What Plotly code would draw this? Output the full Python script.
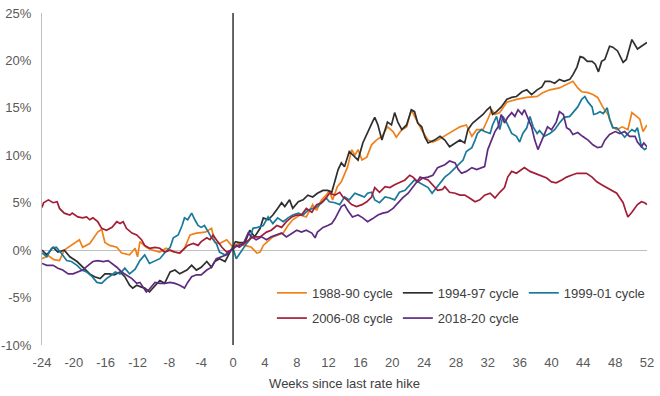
import plotly.graph_objects as go

# ---------------- data (percent change, weeks since last rate hike) ----------------
w_1988 = [-24, -23.2, -22.5, -21.8, -21.2, -19.9, -19.3, -18.9, -18.0, -17.0, -16.5, -16.1, -15.5, -14.6, -14.0,
          -13.0, -12.3, -12.0, -11.7, -10.9, -10.1, -9.2, -8.4, -7.5, -6.7, -6.1, -5.4, -4.6, -3.5, -2.7, -2.3,
          -1.7, -0.8, 0.0, 0.6, 1.5, 2.3, 3.0, 3.4, 3.8, 5.0, 6.3, 6.9, 7.5, 8.4, 9.2, 10.0, 10.5, 11.1, 11.7,
          12.1, 12.5, 13.1, 13.6, 14.4, 14.9, 15.3, 15.7, 16.2, 16.8, 17.4, 18.0, 18.7, 19.4, 20.1, 20.5, 21.2,
          21.8, 22.4, 22.8, 23.5, 23.8, 24.5, 25.1, 25.7, 26.3, 27.2, 28.5, 29.3, 30.0, 30.6, 31.4, 32.0, 32.5,
          32.9, 33.5, 34.4, 35.6, 36.9, 38.2, 38.9, 39.8, 41.0, 41.9, 42.7, 43.3, 43.8, 44.6, 45.2, 45.8, 46.5,
          47.1, 47.7, 48.2, 48.9, 49.6, 50.1, 50.7, 51.1, 51.5, 52.0]
v_1988 = [-0.9, -0.6, -1.0, -1.1, 0.0, 0.8, 1.1, 0.3, 0.7, 1.9, 2.2, 0.8, 0.5, 0.3, -0.3,
          -0.5, 0.2, -0.7, 0.9, 0.3, 0.0, -0.2, 0.2, -0.2, -0.3, 0.2, 1.6, 1.8, 1.9, 2.3, 0.8,
          0.7, 1.1, 0.3, 0.7, 0.5, 0.3, -0.3, -0.2, 0.5, 1.4, 1.8, 2.6, 3.2, 3.7, 3.5, 4.8, 4.2, 5.3, 5.8,
          6.3, 5.3, 6.7, 7.2, 8.8, 10.6, 10.0, 10.6, 9.5, 9.8, 11.1, 11.6, 12.0, 13.0, 12.5, 11.9, 12.7,
          13.0, 14.8, 14.1, 13.0, 12.5, 11.6, 11.4, 11.6, 11.9, 12.3, 13.0, 13.2, 12.0, 12.7, 12.7, 13.8, 14.8,
          14.3, 14.5, 15.6, 15.9, 16.1, 16.2, 16.6, 16.9, 17.1, 17.5, 17.8, 17.1, 16.7, 16.6, 16.4, 16.1, 15.0,
          14.3, 13.0, 12.7, 13.0, 12.7, 14.5, 14.1, 13.8, 12.5, 13.2]

w_1994 = [-24, -23.4, -22.6, -22.0, -21.2, -20.5, -19.6, -18.9, -18.0, -17.4, -16.7, -16.1, -15.5, -14.9, -14.2,
          -13.6, -13.0, -12.6, -12.1, -11.5, -11.1, -10.5, -9.8, -9.2, -8.6, -7.9, -7.3, -6.7, -5.8, -5.2, -4.6,
          -4.0, -3.3, -2.7, -2.3, -1.7, -1.0, -0.4, 0.3, 0.8, 1.5, 2.1, 2.7, 3.4, 3.8, 4.4, 5.0, 5.6, 6.1, 6.5,
          7.1, 7.5, 8.2, 8.8, 9.4, 10.0, 10.6, 11.3, 11.9, 12.4, 12.8, 13.2, 13.6, 14.0, 14.6, 15.3, 15.7, 16.3,
          16.9, 17.5, 17.8, 18.2, 18.7, 19.1, 19.4, 19.9, 20.3, 20.7, 21.2, 21.8, 22.4, 22.8, 23.2, 23.7, 24.1,
          24.5, 25.3, 26.0, 26.6, 27.2, 27.9, 28.5, 29.1, 29.5, 30.1, 30.7, 31.4, 31.9, 32.3, 32.6, 33.1, 33.7,
          34.4, 35.0, 35.6, 36.3, 36.9, 37.5, 38.2, 38.8, 39.2, 39.8, 40.4, 41.0, 41.6, 42.3, 42.7, 43.2, 43.6,
          44.0, 44.5, 45.1, 45.5, 45.9, 46.3, 46.7, 47.3, 47.7, 48.3, 49.0, 49.4, 50.1, 50.5, 50.8, 51.3, 52.0]
v_1994 = [0.0, -0.5, 0.3, -0.2, 0.0, -0.7, -1.2, -1.8, -2.5, -2.8, -3.0, -2.5, -2.5, -2.6, -2.3,
          -2.8, -3.7, -4.0, -3.7, -3.9, -4.0, -4.4, -3.7, -3.2, -3.5, -2.3, -2.1, -2.5, -2.1, -1.6, -2.1,
          -1.8, -1.2, -1.8, -1.2, -0.9, -1.2, -0.2, 0.9, 0.8, 0.8, 2.1, 1.4, 2.3, 3.4, 3.2, 3.7, 4.4, 5.0, 4.6,
          5.3, 4.4, 5.1, 5.3, 5.8, 5.6, 6.0, 6.3, 6.3, 6.1, 7.4, 8.5, 9.2, 8.8, 10.4, 9.8, 9.5, 11.3,
          12.5, 13.5, 14.0, 13.2, 11.6, 12.7, 13.5, 13.2, 14.5, 13.5, 12.7, 13.2, 14.8, 14.6, 13.4, 13.0, 11.9,
          11.3, 11.6, 12.0, 11.6, 10.9, 11.3, 11.6, 11.3, 12.7, 13.4, 13.8, 14.3, 14.8, 15.1, 14.3, 14.6, 15.1,
          15.9, 16.1, 16.2, 16.7, 16.9, 16.4, 16.9, 17.2, 17.8, 17.8, 17.6, 18.0, 17.8, 18.0, 18.5, 19.3, 20.4,
          20.3, 19.9, 19.9, 19.6, 18.8, 19.9, 20.1, 21.5, 21.4, 21.0, 19.8, 20.1, 22.2, 21.7, 21.2, 21.5, 21.9]

w_1999 = [-24, -23.4, -22.8, -22.2, -21.6, -20.9, -20.3, -19.6, -19.0, -18.4, -17.7, -17.1, -16.5, -15.9, -15.2,
          -14.8, -14.2, -13.6, -13.0, -12.3, -11.7, -11.1, -10.5, -9.8, -9.2, -8.6, -7.9, -7.5, -6.9, -6.4, -6.1,
          -5.7, -5.2, -4.8, -4.4, -4.0, -3.6, -3.1, -2.7, -2.1, -1.7, -1.0, -0.6, 0.0, 0.4, 1.1, 1.7, 2.1, 2.5,
          3.1, 3.8, 4.4, 5.0, 5.6, 6.3, 6.9, 7.5, 8.2, 8.8, 9.4, 10.0, 10.6, 11.3, 11.7, 12.1, 12.8, 13.4, 14.0,
          14.6, 15.3, 15.9, 16.5, 16.9, 17.4, 17.8, 18.4, 19.1, 19.7, 20.3, 20.9, 21.6, 22.2, 22.8, 23.2, 23.8,
          24.5, 25.0, 25.6, 26.2, 26.6, 27.2, 27.9, 28.5, 28.9, 29.3, 30.0, 30.4, 30.7, 31.2, 31.6, 32.3, 32.6,
          33.1, 33.5, 33.9, 34.4, 35.0, 35.6, 36.0, 36.4, 36.9, 37.3, 37.7, 38.2, 38.5, 39.1, 39.8, 40.4, 41.0,
          41.6, 42.3, 42.7, 43.3, 43.8, 44.2, 44.6, 45.1, 45.3, 45.7, 46.1, 46.5, 47.0, 47.3, 47.7, 48.2, 48.6,
          49.2, 49.6, 50.1, 50.5, 50.8, 51.3, 51.7, 52.0]
v_1999 = [-0.3, -0.7, 0.2, 0.3, -0.3, -1.1, -1.2, -1.6, -2.1, -2.3, -2.8, -3.4, -3.5, -3.0, -2.6,
          -2.3, -2.5, -1.9, -2.5, -2.0, -1.1, -0.5, -1.4, -1.1, -0.9, -0.3, 0.3, 1.3, 1.6, 2.6, 3.4,
          3.2, 3.9, 3.2, 2.6, 2.4, 2.6, 1.9, 1.3, 0.7, -0.2, -0.5, -0.2, 0.2, -0.9, 0.0, 0.7, 1.1, 2.3,
          2.4, 2.6, 3.5, 2.8, 3.4, 3.0, 3.4, 3.7, 3.9, 3.7, 4.2, 4.4, 4.6, 5.1, 5.5, 5.1, 5.0, 4.8, 5.6,
          5.3, 6.0, 5.8, 5.6, 6.0, 6.1, 5.3, 5.0, 5.6, 5.5, 5.3, 6.1, 6.3, 6.9, 7.4, 7.2, 6.9,
          6.6, 6.0, 6.6, 7.2, 7.7, 8.1, 8.7, 9.2, 9.5, 10.4, 10.8, 11.6, 12.3, 12.7, 12.5, 12.3, 13.2,
          14.1, 12.7, 14.1, 13.4, 12.3, 12.0, 11.4, 12.3, 12.9, 14.1, 13.0, 12.3, 12.6, 12.0, 12.3, 12.7, 13.4,
          14.0, 14.1, 14.5, 15.1, 15.9, 16.2, 15.6, 15.1, 14.3, 14.4, 14.6, 14.4, 15.0, 13.8, 12.9, 12.9, 12.5,
          11.9, 12.3, 12.7, 12.5, 12.9, 10.9, 10.6, 10.8]

w_2006 = [-24, -23.8, -23.2, -22.6, -22.1, -21.8, -21.2, -20.5, -20.2, -19.5, -18.9, -18.4, -18.0, -17.6, -17.0,
          -16.5, -15.9, -15.2, -14.6, -14.2, -13.8, -13.4, -12.7, -12.1, -11.5, -11.1, -10.5, -9.8, -9.2, -8.6,
          -7.9, -7.3, -6.7, -6.3, -5.7, -5.0, -4.4, -4.0, -3.3, -2.9, -2.5, -2.1, -1.4, -0.8, -0.2, 0.4, 0.8,
          1.7, 2.5, 3.4, 4.2, 4.8, 5.5, 6.1, 6.7, 7.4, 8.0, 8.6, 9.2, 9.9, 10.5, 11.1, 11.7, 12.1, 12.8, 13.4,
          13.8, 14.3, 14.9, 15.5, 16.2, 16.8, 17.4, 17.8, 18.4, 19.1, 19.7, 20.3, 20.9, 21.6, 22.2, 22.6, 23.2,
          23.8, 24.5, 25.1, 25.7, 26.3, 26.6, 27.2, 27.9, 28.5, 29.1, 29.7, 30.4, 31.0, 31.6, 32.3, 32.9, 33.5,
          34.1, 34.5, 35.0, 35.6, 36.3, 36.6, 37.3, 37.9, 38.5, 39.4, 40.0, 40.6, 41.3, 41.9, 42.5, 43.2, 43.8,
          44.4, 45.1, 45.7, 46.3, 47.0, 47.6, 48.2, 48.6, 49.0, 49.3, 49.6, 50.1, 50.5, 50.8, 51.3, 51.7, 52.0]
v_2006 = [4.5, 5.0, 5.3, 5.0, 5.1, 4.4, 3.9, 3.7, 3.9, 3.5, 3.4, 3.5, 3.2, 3.4, 3.0,
          2.3, 2.1, 2.4, 3.0, 2.8, 3.0, 2.3, 1.8, 1.6, 1.1, 0.5, 0.2, 0.3, 0.2, -0.2,
          0.0, -0.2, -0.3, 0.0, 0.5, 0.7, 0.5, 0.9, 1.3, 1.1, 1.6, 1.1, 0.3, -0.2, 0.0, 0.5, 0.3,
          0.9, 1.4, 1.4, 1.9, 2.1, 2.6, 2.4, 3.0, 3.5, 3.7, 3.7, 4.4, 4.0, 4.8, 5.0, 5.5, 6.0, 5.8, 6.1,
          5.6, 5.3, 4.8, 4.6, 4.8, 5.1, 5.6, 6.6, 6.1, 6.7, 6.6, 6.9, 7.1, 7.4, 7.9, 7.7, 7.2,
          7.6, 7.4, 6.9, 6.3, 6.4, 6.7, 6.1, 6.0, 5.8, 5.8, 5.5, 5.1, 5.3, 5.8, 6.0, 5.5, 6.1,
          6.6, 7.7, 8.3, 8.1, 8.5, 8.7, 8.3, 8.1, 7.9, 7.6, 7.2, 7.1, 7.4, 7.7, 7.9, 8.1, 8.1,
          8.1, 7.7, 7.2, 6.9, 6.6, 6.3, 6.0, 5.5, 5.0, 4.2, 3.5, 4.0, 4.4, 4.8, 5.1, 5.0, 4.8]

w_2018 = [-24, -23.4, -22.6, -22.0, -21.4, -20.7, -20.1, -19.5, -18.9, -18.2, -17.6, -17.0, -16.3, -15.7, -15.2,
          -14.6, -14.0, -13.4, -12.7, -12.1, -11.7, -11.3, -10.9, -10.5, -9.8, -9.2, -8.6, -7.9, -7.3, -6.7,
          -6.1, -5.7, -5.2, -4.6, -4.0, -3.3, -2.7, -2.1, -1.4, -0.8, -0.2, 0.4, 1.3, 1.9, 2.3, 2.9, 3.6, 4.2,
          4.8, 5.5, 6.1, 6.7, 7.4, 8.0, 8.6, 9.2, 9.9, 10.3, 10.6, 11.3, 11.9, 12.4, 12.8, 13.2, 13.6, 14.0,
          14.4, 15.0, 15.7, 16.3, 16.9, 17.5, 18.2, 18.8, 19.4, 20.1, 20.7, 21.3, 22.0, 22.6, 23.1, 23.5, 23.8,
          24.5, 25.1, 25.7, 26.3, 26.6, 27.2, 27.9, 28.3, 28.7, 29.3, 30.0, 30.6, 31.2, 31.6, 32.0, 32.5, 32.9,
          33.3, 33.7, 34.1, 34.5, 35.0, 35.4, 35.8, 36.3, 36.6, 37.0, 37.5, 37.9, 38.3, 38.8, 39.1, 39.5, 40.0,
          40.6, 41.0, 41.5, 41.9, 42.3, 42.7, 43.3, 43.9, 44.6, 45.2, 45.8, 46.3, 46.7, 47.3, 48.0, 48.6, 49.2,
          49.8, 50.5, 50.8, 51.3, 51.6, 52.0]
v_2018 = [-1.4, -1.6, -1.6, -1.9, -2.1, -2.5, -2.5, -2.3, -2.1, -1.6, -1.2, -1.1, -1.2, -1.1, -1.4,
          -1.8, -2.3, -2.6, -3.0, -3.5, -3.4, -3.9, -4.4, -4.1, -3.4, -3.5, -3.5, -3.4, -3.5, -3.7,
          -4.0, -3.4, -2.8, -2.6, -2.6, -2.1, -1.8, -0.9, -0.7, -0.5, 0.0, 0.4, 0.7, 1.8, 1.4, 1.1, 1.4, 1.1,
          1.4, 1.6, 1.8, 1.4, 1.8, 2.1, 1.9, 2.1, 1.8, 1.3, 1.9, 2.4, 2.6, 2.8, 3.3, 4.0, 4.6, 4.8,
          4.2, 3.5, 3.7, 3.4, 3.0, 3.3, 3.7, 3.9, 4.0, 4.4, 5.0, 5.5, 6.0, 6.6, 7.2, 7.7, 7.6,
          7.7, 7.9, 8.7, 8.9, 9.0, 9.4, 9.2, 8.5, 8.1, 8.3, 8.7, 8.5, 8.7, 8.8, 10.6, 11.6, 12.5,
          13.0, 14.3, 13.4, 14.0, 14.5, 14.1, 14.8, 14.3, 14.8, 14.0, 13.0, 11.6, 10.6, 11.6, 12.3, 13.0, 12.7,
          13.5, 14.6, 14.3, 12.9, 12.7, 12.2, 12.4, 12.0, 11.6, 11.1, 10.8, 10.9, 11.6, 12.2, 12.5, 12.3, 12.5,
          12.0, 12.0, 11.4, 10.9, 11.3, 10.9]

series_names = ["1988-90 cycle", "1994-97 cycle", "1999-01 cycle", "2006-08 cycle", "2018-20 cycle"]
series_weeks = [w_1988, w_1994, w_1999, w_2006, w_2018]
series_values = [v_1988, v_1994, v_1999, v_2006, v_2018]
series_colors = ["#F0811A", "#2E2E2E", "#187A9B", "#A31D36", "#5E2B80"]
series_legend = ["legend", "legend", "legend", "legend2", "legend2"]

x_ticks = list(range(-24, 53, 4))
x_ticktext = [str(t) for t in x_ticks]
y_ticks = list(range(-10, 26, 5))
y_ticktext = [f"{t}%" for t in y_ticks]

FONT = "Liberation Sans, Arial, sans-serif"

fig = go.Figure()
for name, xs, ys, col, lg in zip(series_names, series_weeks, series_values, series_colors, series_legend):
    fig.add_trace(go.Scatter(x=xs, y=ys, mode="lines", name=name,
                             line=dict(color=col, width=1.7), legend=lg))

fig.add_shape(type="line", xref="x", yref="y", x0=0, x1=0, y0=-10, y1=25,
              line=dict(color="#333333", width=1.5))

legend_common = dict(orientation="h", xanchor="left", yanchor="middle",
                     bgcolor="rgba(0,0,0,0)", font=dict(family=FONT, size=13, color="#404040"),
                     traceorder="normal", itemwidth=30, tracegroupgap=0)

fig.update_layout(
    width=660, height=396,
    margin=dict(l=42, r=13, t=13, b=51, autoexpand=False),
    paper_bgcolor="white", plot_bgcolor="white",
    font=dict(family=FONT, size=13, color="#595959"),
    showlegend=True,
    legend=dict(x=0.38, y=0.157, **legend_common),
    legend2=dict(x=0.38, y=0.081, **legend_common),
    xaxis=dict(range=[-24, 52], tickvals=x_ticks, ticktext=x_ticktext, showgrid=False,
               zeroline=False, showline=False, ticks="", ticklabelstandoff=8, automargin=False,
               tickfont=dict(family=FONT, size=13, color="#595959"),
               title=dict(text="Weeks since last rate hike", standoff=9,
                          font=dict(family=FONT, size=13, color="#404040"))),
    yaxis=dict(range=[-10, 25], tickvals=y_ticks, ticktext=y_ticktext, showgrid=False,
               zeroline=True, zerolinecolor="#BFBFBF", zerolinewidth=1,
               showline=True, linecolor="#BFBFBF", linewidth=1, ticks="",
               ticklabelstandoff=7, automargin=False,
               tickfont=dict(family=FONT, size=13, color="#595959")),
)

# remove the default 8px page margin so the 660x396 figure fills the window exactly
fig.write_html("out.html",
               config={"displayModeBar": False},
               post_script="document.body.style.margin='0';document.body.style.overflow='hidden';")
